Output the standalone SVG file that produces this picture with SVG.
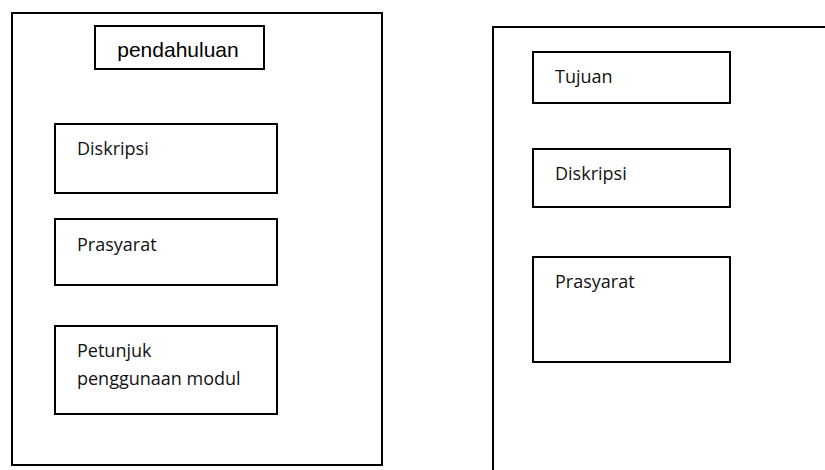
<svg xmlns="http://www.w3.org/2000/svg" width="825" height="470" viewBox="0 0 825 470">
<style>
.box{fill:#fff;stroke:#000;stroke-width:2}
.frame{fill:none;stroke:#000;stroke-width:2}
.lbl{font-family:"Open Sans","Noto Sans",sans-serif;font-size:18px;fill:#111}
.title{font-family:"Liberation Sans",Arial,sans-serif;font-size:21px;fill:#000;text-anchor:middle}
</style>
<rect width="825" height="470" fill="#fff"/>
<g id="left-frame"><rect class="frame" x="12" y="13" width="370" height="452"/></g>
<g id="right-frame"><path class="frame" d="M826,27 H493 V472"/></g>
<g id="pendahuluan"><rect class="box" x="95" y="26" width="169" height="43"/><text class="title" x="178" y="57">pendahuluan</text></g>
<g id="diskripsi-left"><rect class="box" x="55" y="124" width="222" height="69"/><text class="lbl" x="77" y="155">Diskripsi</text></g>
<g id="prasyarat-left"><rect class="box" x="55" y="219" width="222" height="66"/><text class="lbl" x="77" y="251">Prasyarat</text></g>
<g id="petunjuk"><rect class="box" x="55" y="326" width="222" height="88"/><text class="lbl" x="77" y="357">Petunjuk</text><text class="lbl" x="77" y="385">penggunaan modul</text></g>
<g id="tujuan"><rect class="box" x="533" y="52" width="197" height="51"/><text class="lbl" x="555" y="83">Tujuan</text></g>
<g id="diskripsi-right"><rect class="box" x="533" y="149" width="197" height="58"/><text class="lbl" x="555" y="180">Diskripsi</text></g>
<g id="prasyarat-right"><rect class="box" x="533" y="257" width="197" height="105"/><text class="lbl" x="555" y="288">Prasyarat</text></g>
<g id="connectors"></g>
</svg>
